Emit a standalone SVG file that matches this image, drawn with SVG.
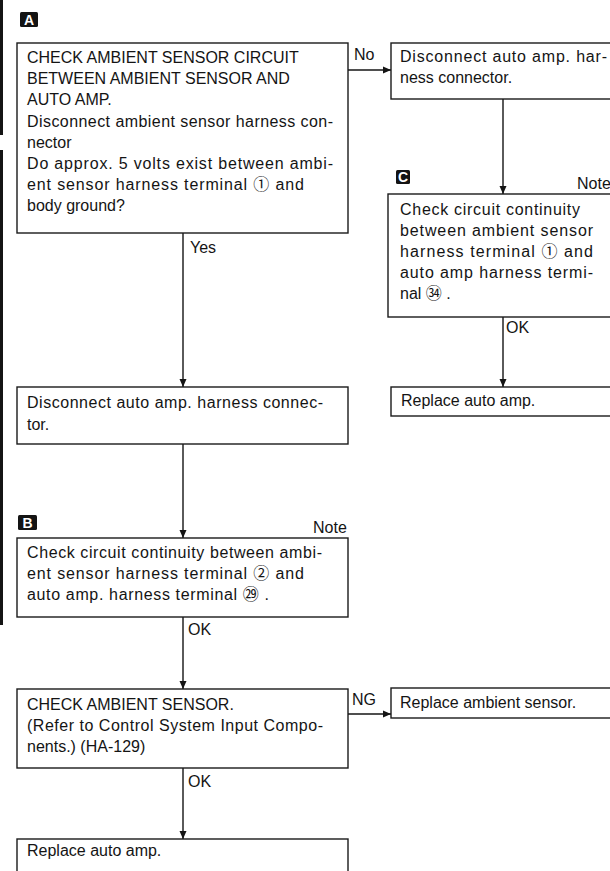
<svg xmlns="http://www.w3.org/2000/svg" width="610" height="871" viewBox="0 0 610 871">
<style>
  .box{fill:#fff;stroke:#1a1a1a;stroke-width:1.4}
  .t{font-family:"Liberation Sans",Arial,"Noto Sans CJK JP",sans-serif;font-size:16px;fill:#141414}
  .lbl{fill:#141414}
  .lt{font-family:"Liberation Sans",Arial,sans-serif;font-size:14px;font-weight:bold;fill:#fff}
  .con{stroke:#141414;stroke-width:1.4;fill:none;marker-end:url(#ah)}
  .edge{fill:#141414}
</style>
<defs>
  <marker id="ah" markerUnits="userSpaceOnUse" markerWidth="9" markerHeight="8" refX="8" refY="4" orient="auto">
    <path d="M0,0.5 L8,4 L0,7.5 z" fill="#141414"/>
  </marker>
</defs>
<rect width="610" height="871" fill="#fff"/>
<g id="binding">
  <rect class="edge" x="0" y="0" width="3" height="135"/>
  <rect class="edge" x="0" y="150" width="3" height="475"/>
</g>

<g id="connectors">
  <line class="con" x1="348" y1="70" x2="391" y2="70"/>
  <line class="con" x1="503" y1="99" x2="503" y2="194"/>
  <line class="con" x1="503" y1="317" x2="503" y2="387"/>
  <line class="con" x1="183" y1="233" x2="183" y2="387"/>
  <line class="con" x1="183" y1="444" x2="183" y2="538"/>
  <line class="con" x1="183" y1="617" x2="183" y2="689"/>
  <line class="con" x1="348" y1="714" x2="391" y2="714"/>
  <line class="con" x1="183" y1="768" x2="183" y2="839"/>
  <text class="t" x="354" y="60">No</text>
  <text class="t" x="190" y="253">Yes</text>
  <text class="t" x="506" y="333">OK</text>
  <text class="t" x="188" y="635">OK</text>
  <text class="t" x="352" y="705">NG</text>
  <text class="t" x="188" y="787">OK</text>
</g>

<g id="nodeA">
  <rect class="lbl" x="20" y="12" width="18" height="15" rx="1.5"/>
  <text class="lt" x="29" y="25" text-anchor="middle">A</text>
  <rect class="box" x="17" y="43" width="331" height="190"/>
  <text class="t" x="27" y="63">CHECK AMBIENT SENSOR CIRCUIT</text>
  <text class="t" x="27" y="84">BETWEEN AMBIENT SENSOR AND</text>
  <text class="t" x="27" y="105">AUTO AMP.</text>
  <text class="t" x="27" y="127" textLength="306" lengthAdjust="spacing">Disconnect ambient sensor harness con-</text>
  <text class="t" x="27" y="148">nector</text>
  <text class="t" x="27" y="169" textLength="306" lengthAdjust="spacing">Do approx. 5 volts exist between ambi-</text>
  <text class="t" x="27" y="190" textLength="277" lengthAdjust="spacing">ent sensor harness terminal ① and</text>
  <text class="t" x="27" y="211">body ground?</text>
</g>

<g id="nodeDisconnectRight">
  <rect class="box" x="391" y="43" width="230" height="56"/>
  <text class="t" x="400" y="62" textLength="207" lengthAdjust="spacing">Disconnect auto amp. har-</text>
  <text class="t" x="400" y="83">ness connector.</text>
</g>

<g id="nodeC">
  <rect class="lbl" x="396" y="170" width="14" height="14" rx="1.5"/>
  <text class="lt" x="403" y="182" text-anchor="middle">C</text>
  <text class="t" x="577" y="189">Note</text>
  <rect class="box" x="388" y="194" width="233" height="123"/>
  <text class="t" x="400" y="215" textLength="180" lengthAdjust="spacing">Check circuit continuity</text>
  <text class="t" x="400" y="236" textLength="193" lengthAdjust="spacing">between ambient sensor</text>
  <text class="t" x="400" y="257" textLength="193" lengthAdjust="spacing">harness terminal ① and</text>
  <text class="t" x="400" y="278" textLength="193" lengthAdjust="spacing">auto amp  harness termi-</text>
  <text class="t" x="400" y="299">nal ㉞ .</text>
</g>

<g id="nodeReplaceAmpRight">
  <rect class="box" x="391" y="387" width="230" height="29"/>
  <text class="t" x="401" y="406">Replace auto amp.</text>
</g>

<g id="nodeDisconnectLeft">
  <rect class="box" x="17" y="387" width="331" height="57"/>
  <text class="t" x="27" y="408" textLength="296" lengthAdjust="spacing">Disconnect auto amp. harness connec-</text>
  <text class="t" x="27" y="430">tor.</text>
</g>

<g id="nodeB">
  <rect class="lbl" x="18" y="515" width="19" height="15" rx="1.5"/>
  <text class="lt" x="27.5" y="528" text-anchor="middle">B</text>
  <text class="t" x="313" y="533">Note</text>
  <rect class="box" x="17" y="538" width="331" height="79"/>
  <text class="t" x="27" y="558" textLength="295" lengthAdjust="spacing">Check circuit continuity between ambi-</text>
  <text class="t" x="27" y="579" textLength="277" lengthAdjust="spacing">ent sensor harness terminal ② and</text>
  <text class="t" x="27" y="600" textLength="242" lengthAdjust="spacing">auto amp. harness terminal ㉙ .</text>
</g>

<g id="nodeE">
  <rect class="box" x="17" y="689" width="331" height="79"/>
  <text class="t" x="27" y="710">CHECK AMBIENT SENSOR.</text>
  <text class="t" x="27" y="731" textLength="296" lengthAdjust="spacing">(Refer to Control System Input Compo-</text>
  <text class="t" x="27" y="752">nents.) (HA-129)</text>
</g>

<g id="nodeReplaceSensor">
  <rect class="box" x="391" y="688" width="230" height="30"/>
  <text class="t" x="400" y="708">Replace ambient sensor.</text>
</g>

<g id="nodeReplaceAmpBottom">
  <rect class="box" x="17" y="839" width="331" height="40"/>
  <text class="t" x="27" y="856">Replace auto amp.</text>
</g>
</svg>
